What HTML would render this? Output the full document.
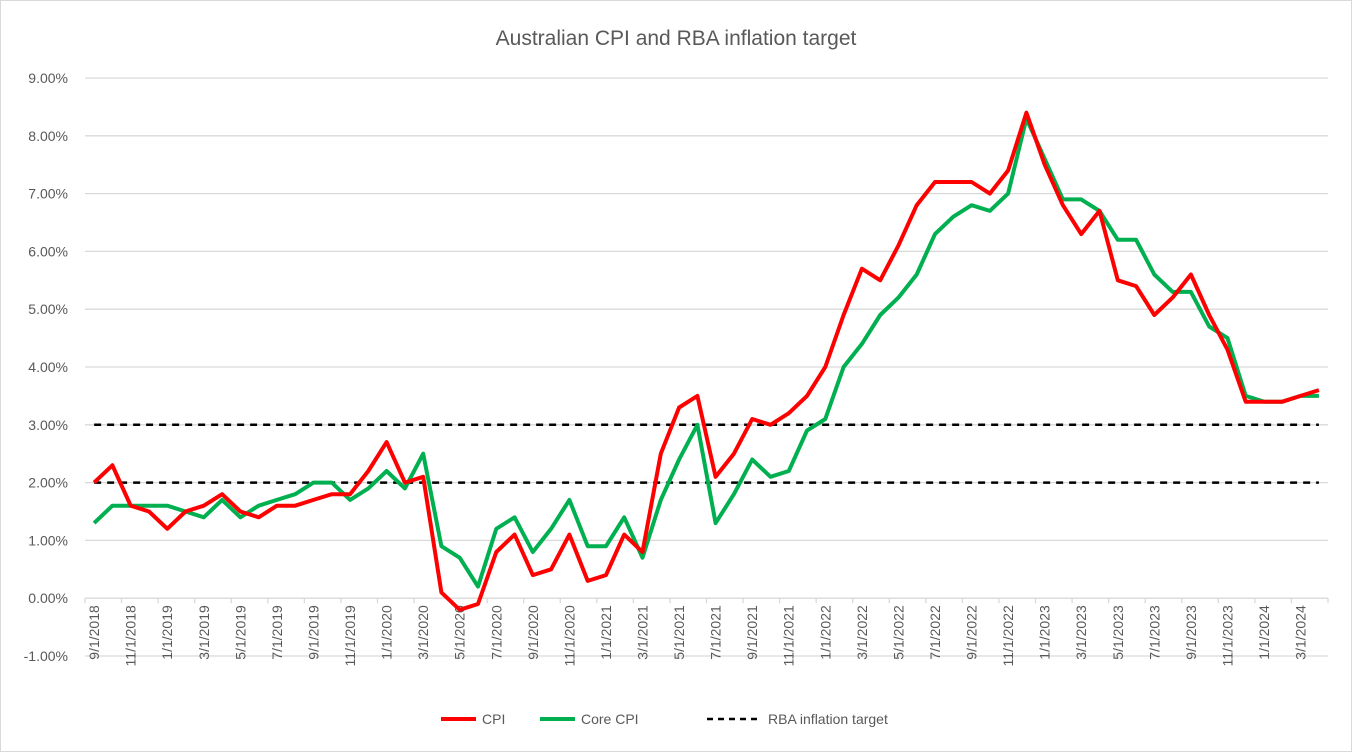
<!DOCTYPE html>
<html><head><meta charset="utf-8"><style>
body{margin:0;background:#fff;}
svg{display:block;font-family:"Liberation Sans",sans-serif;}
</style></head><body>
<svg id="chart" width="1352" height="752" viewBox="0 0 1352 752">
<rect x="0.5" y="0.5" width="1351" height="751" fill="#fff" stroke="#d9d9d9"/>
<text x="676" y="45" text-anchor="middle" font-size="21" fill="#595959">Australian CPI and RBA inflation target</text>
<g id="grid"></g><g id="xaxis"></g><g id="series"></g>
<g>
<line x1="441" y1="719" x2="476" y2="719" stroke="#ff0000" stroke-width="4"/>
<text x="482" y="724" font-size="14" fill="#595959">CPI</text>
<line x1="540" y1="719" x2="575" y2="719" stroke="#00b050" stroke-width="4"/>
<text x="581" y="724" font-size="14" fill="#595959">Core CPI</text>
<line x1="707" y1="719" x2="757" y2="719" stroke="#000" stroke-width="2.5" stroke-dasharray="6,5"/>
<text x="768" y="724" font-size="14" fill="#595959">RBA inflation target</text>
</g>
</svg>
<script>
const cpi=[2.0,2.3,1.6,1.5,1.2,1.5,1.6,1.8,1.5,1.4,1.6,1.6,1.7,1.8,1.8,2.2,2.7,2.0,2.1,0.1,-0.2,-0.1,0.8,1.1,0.4,0.5,1.1,0.3,0.4,1.1,0.8,2.5,3.3,3.5,2.1,2.5,3.1,3.0,3.2,3.5,4.0,4.9,5.7,5.5,6.1,6.8,7.2,7.2,7.2,7.0,7.4,8.4,7.5,6.8,6.3,6.7,5.5,5.4,4.9,5.2,5.6,4.9,4.3,3.4,3.4,3.4,3.5,3.6];
const coreCpi=[1.3,1.6,1.6,1.6,1.6,1.5,1.4,1.7,1.4,1.6,1.7,1.8,2.0,2.0,1.7,1.9,2.2,1.9,2.5,0.9,0.7,0.2,1.2,1.4,0.8,1.2,1.7,0.9,0.9,1.4,0.7,1.7,2.4,3.0,1.3,1.8,2.4,2.1,2.2,2.9,3.1,4.0,4.4,4.9,5.2,5.6,6.3,6.6,6.8,6.7,7.0,8.3,7.6,6.9,6.9,6.7,6.2,6.2,5.6,5.3,5.3,4.7,4.5,3.5,3.4,3.4,3.5,3.5];
const targets=[2,3];
const yTicks=[-1,0,1,2,3,4,5,6,7,8,9];
const startYear=2018, startMonth=9;
const NS="http://www.w3.org/2000/svg";
const L=85,R=1328,T=78,B=656,ymin=-1,ymax=9;
const n=cpi.length,w=(R-L)/n;
const X=i=>L+(i+0.5)*w;
const Y=v=>B-(v-ymin)/(ymax-ymin)*(B-T);
function mk(tag,attrs,parent){const e=document.createElementNS(NS,tag);for(const k in attrs)e.setAttribute(k,attrs[k]);parent.appendChild(e);return e;}
const grid=document.getElementById('grid'),xa=document.getElementById('xaxis'),sr=document.getElementById('series');
yTicks.forEach(v=>{
 const l=mk('line',{x1:L,x2:R,y1:Y(v),y2:Y(v),stroke:'#d9d9d9','stroke-width':1.3},grid);
 
 
 const t=mk('text',{x:68,y:Y(v)+5,'text-anchor':'end','font-size':14,fill:'#595959'},grid);
 
 
 t.textContent=v.toFixed(2)+'%';
});
const y0=Y(0);
for(let i=0;i<=n;i+=2){
 const tk=mk('line',{x1:L+i*w,x2:L+i*w,y1:y0,y2:y0+5,stroke:'#d9d9d9','stroke-width':1.3},xa);
 
 
}
for(let i=0;i<n;i+=2){
 const m=(startMonth-1+i)%12+1,yr=startYear+Math.floor((startMonth-1+i)/12);
 const x=X(i)+5,y=y0+7;
 const t=mk('text',{x:x,y:y,'text-anchor':'end','font-size':14,fill:'#595959',transform:`rotate(-90 ${x} ${y})`},xa);
 
 
 t.textContent=m+'/1/'+yr;
}
targets.forEach(v=>{
 const l=mk('line',{x1:X(0),x2:X(n-1),y1:Y(v),y2:Y(v),stroke:'#000','stroke-width':2.5,'stroke-dasharray':'7,6'},sr);
 
 
});
function line(arr,color,name){
 const p=mk('polyline',{points:arr.map((v,i)=>X(i).toFixed(1)+','+Y(v).toFixed(1)).join(' '),fill:'none',stroke:color,'stroke-width':4,'stroke-linejoin':'round'},sr);
 
 
}
line(coreCpi,'#00b050','core-cpi-line');
line(cpi,'#ff0000','cpi-line');
</script>
</body></html>
